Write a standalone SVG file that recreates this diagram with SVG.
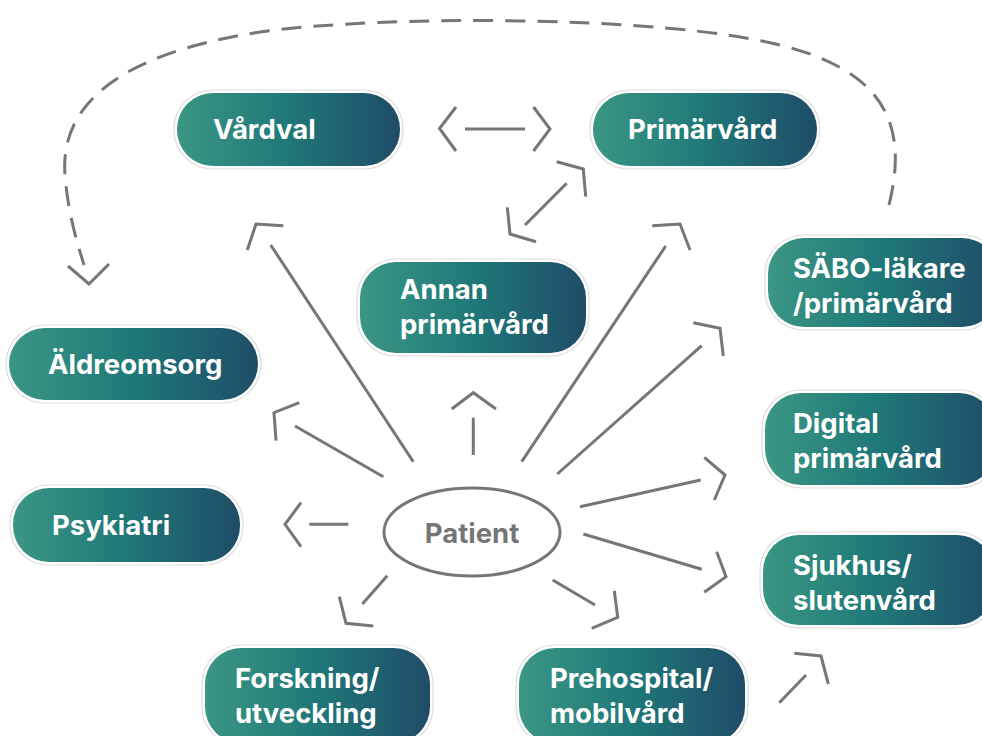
<svg xmlns="http://www.w3.org/2000/svg" width="982" height="736" viewBox="0 0 982 736">
  <defs>
    <linearGradient id="pillFill" x1="0" y1="0" x2="1" y2="0">
      <stop offset="0" stop-color="#3b9684"/>
      <stop offset="0.5" stop-color="#1f7878"/>
      <stop offset="1" stop-color="#1f4c68"/>
    </linearGradient>
  </defs>
  <style>
    .halo { fill: #ffffff; stroke: #dcdcdc; stroke-width: 1.2; }
    .pill { fill: url(#pillFill); }
    .label { font-family: Inter, "Liberation Sans", sans-serif; font-weight: 700; font-size: 27.5px; fill: #ffffff; }
    .pt { font-family: Inter, "Liberation Sans", sans-serif; font-weight: 700; font-size: 27.5px; fill: #767676; }
    .ln { fill: none; stroke: #767676; stroke-width: 3; stroke-linejoin: miter; }
    .dash { fill: none; stroke: #767676; stroke-width: 3; stroke-dasharray: 20 12; }
  </style>

  <!-- nodes -->
  <g id="vardval">
    <rect class="halo" x="174" y="90" width="229" height="79" rx="39"/>
    <rect class="pill" x="177" y="93" width="223" height="73" rx="36"/>
    <text class="label" x="213" y="139">Vårdval</text>
  </g>
  <g id="primarvard">
    <rect class="halo" x="590" y="90" width="230" height="79" rx="39"/>
    <rect class="pill" x="593" y="93" width="224" height="73" rx="36"/>
    <text class="label" x="628" y="139">Primärvård</text>
  </g>
  <g id="annan">
    <rect class="halo" x="357" y="259" width="232" height="97" rx="39"/>
    <rect class="pill" x="360" y="262" width="226" height="91" rx="36"/>
    <text class="label" x="400" y="299">Annan</text>
    <text class="label" x="400" y="334">primärvård</text>
  </g>
  <g id="sabo">
    <rect class="halo" x="765" y="235" width="236" height="95" rx="39"/>
    <rect class="pill" x="768" y="238" width="230" height="89" rx="36"/>
    <text class="label" x="793" y="278">SÄBO-läkare</text>
    <text class="label" x="793" y="313">/primärvård</text>
  </g>
  <g id="aldreomsorg">
    <rect class="halo" x="6" y="325" width="255" height="78" rx="39"/>
    <rect class="pill" x="9" y="328" width="249" height="72" rx="36"/>
    <text class="label" x="48" y="374">Äldreomsorg</text>
  </g>
  <g id="digital">
    <rect class="halo" x="762" y="390" width="236" height="98" rx="39"/>
    <rect class="pill" x="765" y="393" width="230" height="92" rx="36"/>
    <text class="label" x="793" y="433">Digital</text>
    <text class="label" x="793" y="468">primärvård</text>
  </g>
  <g id="psykiatri">
    <rect class="halo" x="10" y="485" width="233" height="80" rx="39"/>
    <rect class="pill" x="13" y="488" width="227" height="74" rx="36"/>
    <text class="label" x="52" y="535">Psykiatri</text>
  </g>
  <g id="sjukhus">
    <rect class="halo" x="760" y="532" width="236" height="96" rx="39"/>
    <rect class="pill" x="763" y="535" width="230" height="90" rx="36"/>
    <text class="label" x="793" y="575">Sjukhus/</text>
    <text class="label" x="793" y="610">slutenvård</text>
  </g>
  <g id="forskning">
    <rect class="halo" x="202" y="645" width="231" height="101" rx="39"/>
    <rect class="pill" x="205" y="648" width="225" height="95" rx="36"/>
    <text class="label" x="235" y="688">Forskning/</text>
    <text class="label" x="235" y="723">utveckling</text>
  </g>
  <g id="prehospital">
    <rect class="halo" x="516" y="645" width="232" height="101" rx="39"/>
    <rect class="pill" x="519" y="648" width="226" height="95" rx="36"/>
    <text class="label" x="550" y="688">Prehospital/</text>
    <text class="label" x="550" y="723">mobilvård</text>
  </g>
  <g id="patient">
    <ellipse cx="472" cy="532" rx="88" ry="44" fill="none" stroke="#767676" stroke-width="3"/>
    <text class="pt" x="472" y="543" text-anchor="middle">Patient</text>
  </g>

  <!-- connectors -->
  <g id="connectors">
    <!-- Vårdval <-> Primärvård -->
    <line class="ln" x1="465" y1="129" x2="525" y2="129"/>
    <polyline class="ln" points="456,107 439.5,128.5 456,151"/>
    <polyline class="ln" points="533.5,107 550,129 533.5,151"/>
    <!-- Annan <-> Primärvård -->
    <line class="ln" x1="566.7" y1="183.3" x2="525" y2="225"/>
    <polyline class="ln" points="556.7,161.7 583.3,169 585.7,196.7"/>
    <polyline class="ln" points="507.3,207.3 510,234 536,241.7"/>
    <!-- Patient -> Vårdval -->
    <line class="ln" x1="413.3" y1="461.7" x2="270.7" y2="245"/>
    <polyline class="ln" points="283.3,225.7 256,224 247.3,250"/>
    <!-- Patient -> Äldreomsorg -->
    <line class="ln" x1="383.3" y1="476.7" x2="295" y2="426"/>
    <polyline class="ln" points="299.3,402.7 274,412.7 276,440.7"/>
    <!-- Patient -> Annan -->
    <line class="ln" x1="473.3" y1="455" x2="473.3" y2="417.7"/>
    <polyline class="ln" points="451.7,409 473.3,392.7 496,409"/>
    <!-- Patient -> Primärvård -->
    <line class="ln" x1="521.7" y1="461.7" x2="665.7" y2="246"/>
    <polyline class="ln" points="652.3,225.7 680,224 690,250"/>
    <!-- Patient -> SÄBO -->
    <line class="ln" x1="557.3" y1="474" x2="701.7" y2="345.7"/>
    <polyline class="ln" points="693.3,322.7 720,328.3 723.3,356"/>
    <!-- Patient -> Digital -->
    <line class="ln" x1="580" y1="506.7" x2="700.7" y2="480"/>
    <polyline class="ln" points="704.3,457.3 725,475 714.3,500"/>
    <!-- Patient -> Sjukhus -->
    <line class="ln" x1="583.3" y1="534" x2="701.7" y2="569.3"/>
    <polyline class="ln" points="716.7,551.7 726,576.7 704.3,592.3"/>
    <!-- Patient -> Prehospital -->
    <line class="ln" x1="552.7" y1="580" x2="595" y2="605"/>
    <polyline class="ln" points="614.3,590.7 617.7,617.3 591.7,628.3"/>
    <!-- Patient -> Forskning -->
    <line class="ln" x1="387.3" y1="575.7" x2="362.3" y2="604"/>
    <polyline class="ln" points="339.3,596.7 346,623.3 373.3,626"/>
    <!-- Patient -> Psykiatri -->
    <line class="ln" x1="348.3" y1="524.3" x2="309.3" y2="524.3"/>
    <polyline class="ln" points="301,502.7 285,524.3 301,546.7"/>
    <!-- Prehospital -> Sjukhus -->
    <line class="ln" x1="779.3" y1="702.7" x2="806" y2="675"/>
    <polyline class="ln" points="794.3,653.3 821,656 828.3,684"/>
    <!-- SÄBO -> Äldreomsorg (dashed loop over the top) -->
    <path class="dash" d="M 889 205 C 910 120 880 70 780 45 C 660 15 380 15 260 32 C 110 55 60 110 65 175 C 68 215 78 245 84 265"/>
    <polyline class="ln" points="68,266 89,284 109,264"/>
  </g>
</svg>
